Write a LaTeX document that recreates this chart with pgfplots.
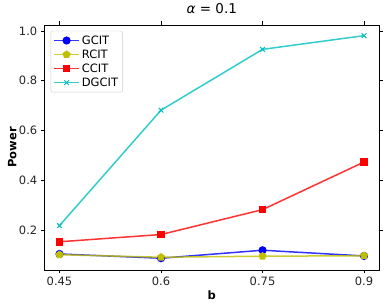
\documentclass[border=0pt]{standalone}
\usepackage{fontspec}
\setmainfont{DejaVu Sans}
\usepackage{pgfplots}
\pgfplotsset{compat=1.18}
\definecolor{mplblue}{rgb}{0,0,1}
\definecolor{mply}{rgb}{0.75,0.75,0}
\definecolor{mplred}{rgb}{1,0,0}
\definecolor{mplc}{rgb}{0,0.75,0.75}
\begin{document}
\begin{tikzpicture}
\begin{axis}[
    scale only axis,
    width=335pt, height=245pt,
    xmin=0.4275, xmax=0.9225,
    ymin=0.041, ymax=1.024,
    xtick={0.45,0.6,0.75,0.9},
    xticklabels={0.45,0.6,0.75,0.9},
    ytick={0.2,0.4,0.6,0.8,1.0},
    yticklabel style={/pgf/number format/.cd,fixed,fixed zerofill,precision=1},
    /pgf/number format/assume math mode=true,
    tick align=outside,
    tick style={black, line width=0.6pt},
    major tick length=3.5pt,
    axis line style={line width=0.6pt},
    ticklabel style={font=\fontsize{11.5}{13}\selectfont, text=black!85},
    xlabel={\textbf{b}},
    ylabel={\textbf{Power}},
    label style={font=\fontsize{11.5}{13}\selectfont},
    xlabel style={at={(rel axis cs:0.5,0)}, anchor=center, yshift=-25pt},
    ylabel style={at={(rel axis cs:0,0.5)}, anchor=center, yshift=32pt},
    title={\textit{α} = 0.1},
    title style={font=\fontsize{13.5}{15}\selectfont, at={(rel axis cs:0.5,1)}, anchor=center, yshift=10.5pt},
    legend cell align=left,
    legend style={font=\fontsize{11.5}{15.7}\selectfont, draw=black!20, rounded corners=2pt,
        at={(0.019,0.976)}, anchor=north west, inner sep=2.5pt},
    legend image code/.code={
        \draw[mark repeat=2,mark phase=2] plot coordinates {(0pt,0pt) (12.5pt,0pt) (25pt,0pt)};
    },
    every axis plot/.append style={line width=1.5pt, mark size=3.3pt},
]
\addplot[mplblue, draw opacity=0.8, mark=*, mark options={solid, fill=mplblue, draw opacity=1}] coordinates {
    (0.45,0.105) (0.6,0.088) (0.75,0.120) (0.9,0.097)
};
\addlegendentry{GCIT}
\addplot[mply, draw opacity=0.8, mark=pentagon*, mark options={solid, fill=mply, draw opacity=1}] coordinates {
    (0.45,0.102) (0.6,0.092) (0.75,0.096) (0.9,0.098)
};
\addlegendentry{RCIT}
\addplot[mplred, draw opacity=0.8, mark=square*, mark size=3pt, mark options={solid, fill=mplred, draw opacity=1}] coordinates {
    (0.45,0.154) (0.6,0.183) (0.75,0.283) (0.9,0.474)
};
\addlegendentry{CCIT}
\addplot[mplc, draw opacity=0.8, mark=x, mark options={solid, line width=1pt, draw opacity=1}] coordinates {
    (0.45,0.219) (0.6,0.682) (0.75,0.926) (0.9,0.981)
};
\addlegendentry{DGCIT}
\coordinate (bl) at (rel axis cs:-0.1322,-0.1539);
\coordinate (tr) at (rel axis cs:1.029,1.095);
\end{axis}
\path[use as bounding box] (bl) rectangle (tr);
\end{tikzpicture}
\end{document}
